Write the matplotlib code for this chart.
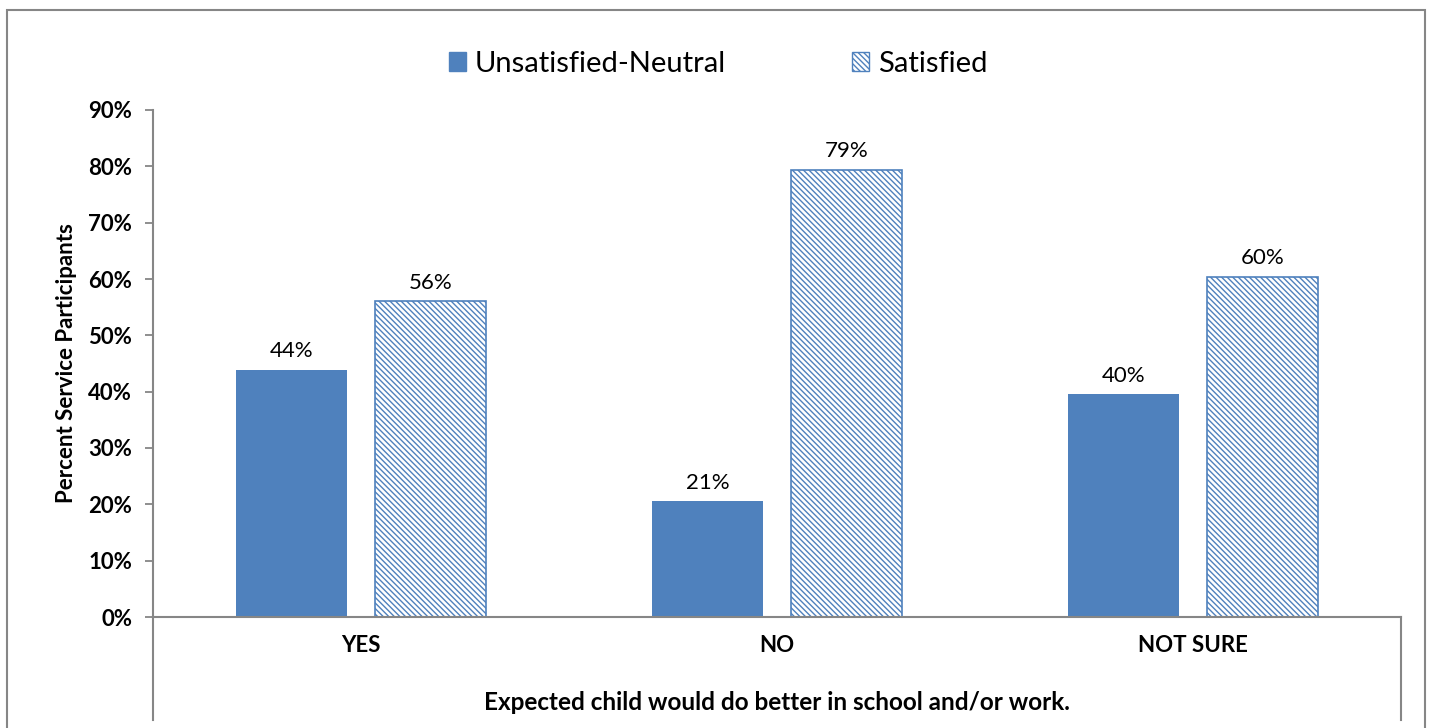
import matplotlib
matplotlib.use("Agg")
import matplotlib.pyplot as plt
from matplotlib.patches import Patch, Rectangle
from matplotlib.lines import Line2D
import numpy as np

# Survey results: share of service participants by satisfaction group
categories = ["YES", "NO", "NOT SURE"]
series_names = ["Unsatisfied-Neutral", "Satisfied"]
unsatisfied_neutral = [43.9, 20.6, 39.6]
satisfied = [56.1, 79.4, 60.4]
y_ticks = [0, 10, 20, 30, 40, 50, 60, 70, 80, 90]
y_label = "Percent Service Participants"
x_label = "Expected child would do better in school and/or work."

BLUE = "#4F81BD"
AXIS_GRAY = "#868686"
HATCH = "\\" * 6
W, H = 1434, 728

plt.rcParams["font.family"] = ["Lato", "DejaVu Sans"]
plt.rcParams["hatch.color"] = BLUE
plt.rcParams["hatch.linewidth"] = 1.0

fig = plt.figure(figsize=(W / 100, H / 100), dpi=100)

def fx(px):
    return px / W

def fy(py):
    return 1 - py / H

# plot area in pixel terms
left, right, top, bottom = 153, 1401, 110, 617
ax = fig.add_axes([fx(left), fy(bottom), fx(right - left), (bottom - top) / H])

x = np.arange(len(categories))
bw = 0.267
off = 0.167
b1 = ax.bar(x - off, unsatisfied_neutral, bw, color=BLUE, edgecolor=BLUE, linewidth=0)
b2 = ax.bar(x + off, satisfied, bw, facecolor="white", edgecolor=BLUE,
            hatch=HATCH, linewidth=1.2)

for bars, vals in ((b1, unsatisfied_neutral), (b2, satisfied)):
    for r, v in zip(bars, vals):
        ax.annotate(f"{v:.0f}%", (r.get_x() + r.get_width() / 2, v),
                    xytext=(0, 6), textcoords="offset points",
                    ha="center", va="bottom", fontsize=16, color="black")

ax.set_xlim(-0.5, 2.5)
ax.set_ylim(0, 90)
ax.set_yticks(y_ticks)
ax.set_yticklabels([f"{t}%" for t in y_ticks], fontsize=16, fontweight="bold")
ax.tick_params(axis="y", direction="out", length=6, width=1.3, color=AXIS_GRAY, pad=9)
ax.set_xticks(x)
ax.set_xticklabels(categories, fontsize=16, fontweight="bold")
ax.tick_params(axis="x", length=0, pad=13)

for s in ("top", "right"):
    ax.spines[s].set_visible(False)
for s in ("left", "bottom"):
    ax.spines[s].set_color(AXIS_GRAY)
    ax.spines[s].set_linewidth(1.5)

ax.set_ylabel(y_label, fontsize=16, fontweight="bold", labelpad=8)

# category axis frame extending below the plot area
for px in (left, right):
    fig.add_artist(Line2D([fx(px), fx(px)], [fy(bottom), fy(720)],
                          color=AXIS_GRAY, linewidth=1.5))

fig.text(fx(777), fy(702), x_label, ha="center", va="center",
         fontsize=17.5, fontweight="bold")

# outer chart border
fig.add_artist(Rectangle((fx(7), fy(740)), fx(1425 - 7), (740 - 10) / H,
                         fill=False, edgecolor=AXIS_GRAY, linewidth=1.5))

handles = [Patch(facecolor=BLUE, edgecolor=BLUE),
           Patch(facecolor="white", edgecolor=BLUE, hatch=HATCH)]
fig.legend(handles, series_names, loc="center", bbox_to_anchor=(fx(718), fy(64)),
           ncol=2, frameon=False, fontsize=21, handlelength=0.6, handleheight=0.6,
           handletextpad=0.3, columnspacing=4.3)

fig.savefig("out.png", dpi=100)
